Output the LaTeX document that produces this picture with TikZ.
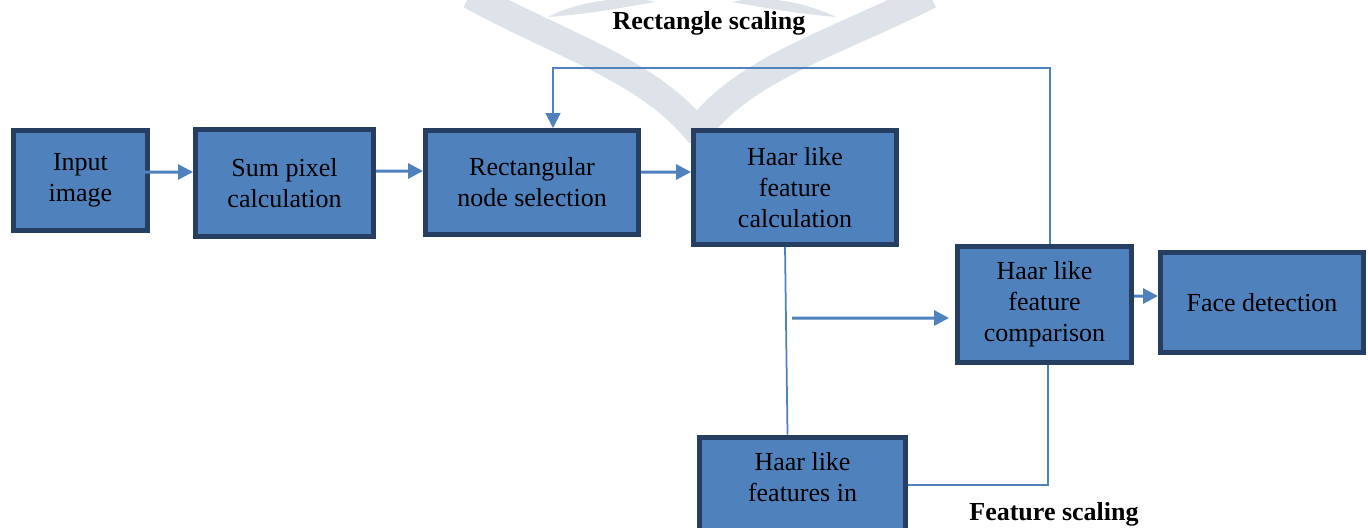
\documentclass[tikz,border=0pt]{standalone}
\usepackage{fontspec}
\setmainfont{Liberation Serif}
\usetikzlibrary{arrows.meta}
\definecolor{boxfill}{RGB}{79,129,189}
\definecolor{boxline}{RGB}{38,62,98}
\definecolor{wmark}{RGB}{221,227,232}

\begin{document}
\begin{tikzpicture}[x=0.02cm, y=-0.02cm,
    block/.style={draw=boxline, fill=boxfill, line width=0.1cm, align=center, inner sep=0pt,
      font=\fontsize{14.8}{17.6}\selectfont},
    arr/.style={draw=boxfill, line width=0.06cm, -{Triangle[length=0.3cm,width=0.3cm]}},
    fb/.style={draw=boxfill, line width=0.035cm}]
    \useasboundingbox (0,0) rectangle (1368,527);
    \clip (0,0) rectangle (1368,527);
    % watermark:
    \draw[wmark, line width=0.55cm] (470,-5) .. controls (560,45) and (650,70) .. (700,135); % linker Bogen
    \draw[wmark, line width=0.55cm] (930,-5) .. controls (830,45) and (740,70) .. (695,135); % rechter Bogen
    \fill[wmark] (548,17) .. controls (580,0) and (630,-5) .. (655,2) .. controls (620,8) and (590,14) .. (548,17); % Blatt links
    \fill[wmark] (836,17) .. controls (800,0) and (760,-5) .. (732,2) .. controls (765,8) and (800,14) .. (836,17); % Blatt rechts
    % blocks:
    \node[block, minimum width=2.68cm, minimum height=2.0cm] (input) at (80.5,180.5) {Input\\image};
    \node[block, minimum width=3.56cm, minimum height=2.14cm] (sum) at (284.5,183) {Sum pixel\\calculation};
    \node[block, minimum width=4.26cm, minimum height=2.08cm] (rect) at (532,182.5) {Rectangular\\node selection};
    \node[block, minimum width=4.06cm, minimum height=2.28cm] (calc) at (795,187.5) {Haar like\\feature\\calculation};
    \node[block, minimum width=3.48cm, minimum height=2.32cm] (comp) at (1044.5,304.5) {Haar like\\feature\\comparison};
    \node[block, minimum width=4.06cm, minimum height=2.0cm] (face) at (1262,302.5) {Face detection};
    \node[block, minimum width=4.12cm, minimum height=2.4cm] (feat) at (802.5,497) {Haar like\\features in\\\strut};
    % labels:
    \node[font=\fontsize{14.8}{17.6}\selectfont\bfseries] (rscale) at (709,23) {Rectangle scaling};
    \node[font=\fontsize{14.8}{17.6}\selectfont\bfseries] (fscale) at (1054,514) {Feature scaling};
    % arrows:
    \draw[arr] ([xshift=-0.2cm, yshift=0.17cm]input.east) -- ([yshift=0.22cm]sum.west);
    \draw[arr] ([yshift=0.24cm]sum.east) -- ([yshift=0.23cm]rect.west);
    \draw[arr] ([yshift=0.21cm]rect.east) -- ([yshift=0.31cm]calc.west);
    \draw[arr] ([yshift=0.17cm]comp.east) -- ([yshift=0.13cm]face.west);
    % feedback lines:
    \draw[fb, -{Triangle[length=0.3cm,width=0.3cm]}] ([xshift=0.11cm]comp.north) -- ++(0,-176) -| ([xshift=0.42cm]rect.north); % oben
    \draw[fb] ([xshift=-0.2cm]calc.south) -- ([xshift=-0.3cm]feat.north); % senkrecht
    \coordinate (jn) at (792,318);
    \draw[arr] (jn) -- ([yshift=-0.27cm, xshift=-0.12cm]comp.west);
    \draw[fb] ([yshift=0.24cm]feat.east) -| ([xshift=0.07cm]comp.south); % unten
\end{tikzpicture}
\end{document}
